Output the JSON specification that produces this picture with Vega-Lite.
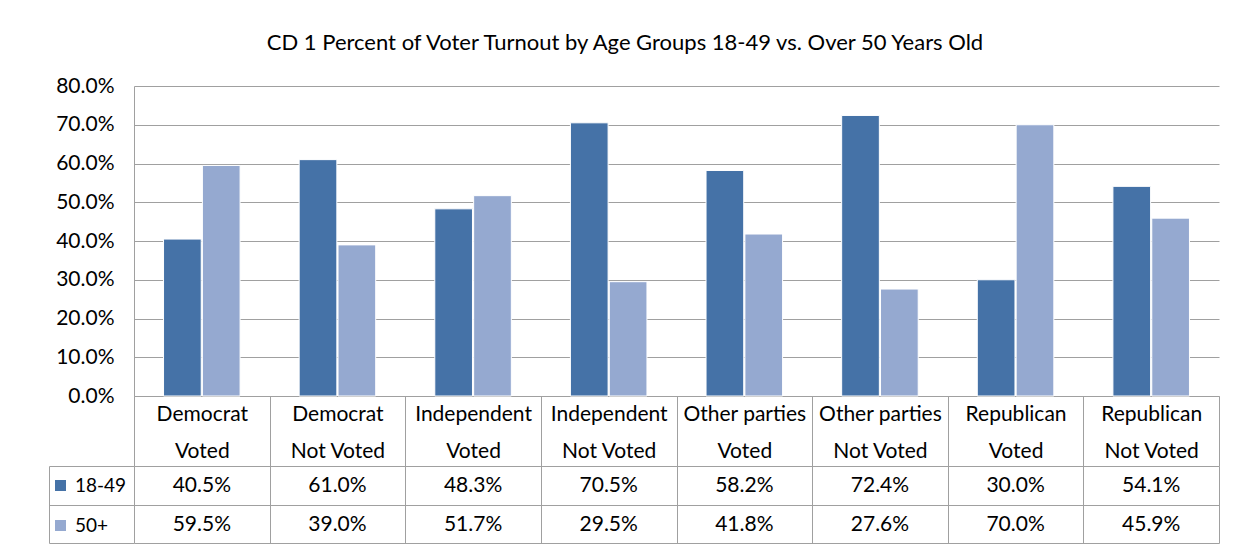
{
  "$schema": "https://vega.github.io/schema/vega-lite/v6.json",
  "autosize": {"type": "pad"},
  "padding": {"left": 48, "top": 32, "right": 20, "bottom": 5},
  "background": "white",
  "title": {"text": "CD 1 Percent of Voter Turnout by Age Groups 18-49 vs. Over 50 Years Old", "fontSize": 22, "font": "Lato", "fontWeight": "normal", "color": "#000000", "anchor": "middle", "offset": 20, "dx": -9},
  "config": {"font": "Lato", "view": {"stroke": null}},
  "datasets": {
    "turnout": [
      {"category": "Democrat Voted", "age": "18-49", "share": 0.405},
      {"category": "Democrat Voted", "age": "50+", "share": 0.595},
      {"category": "Democrat Not Voted", "age": "18-49", "share": 0.610},
      {"category": "Democrat Not Voted", "age": "50+", "share": 0.390},
      {"category": "Independent Voted", "age": "18-49", "share": 0.483},
      {"category": "Independent Voted", "age": "50+", "share": 0.517},
      {"category": "Independent Not Voted", "age": "18-49", "share": 0.705},
      {"category": "Independent Not Voted", "age": "50+", "share": 0.295},
      {"category": "Other parties Voted", "age": "18-49", "share": 0.582},
      {"category": "Other parties Voted", "age": "50+", "share": 0.418},
      {"category": "Other parties Not Voted", "age": "18-49", "share": 0.724},
      {"category": "Other parties Not Voted", "age": "50+", "share": 0.276},
      {"category": "Republican Voted", "age": "18-49", "share": 0.300},
      {"category": "Republican Voted", "age": "50+", "share": 0.700},
      {"category": "Republican Not Voted", "age": "18-49", "share": 0.541},
      {"category": "Republican Not Voted", "age": "50+", "share": 0.459}
    ]
  },
  "spacing": 70,
  "bounds": "flush",
  "resolve": {"scale": {"color": "independent"}, "legend": {"color": "independent"}},
  "vconcat": [
    {
      "width": 1085,
      "height": 310,
      "data": {"name": "turnout"},
      "mark": {"type": "bar", "stroke": "white", "strokeWidth": 1},
      "encoding": {
        "x": {
          "field": "category", "type": "nominal", "sort": null,
          "scale": {"paddingInner": 0, "paddingOuter": 0},
          "axis": {
            "title": null, "labelAngle": 0,
            "labelExpr": "indexof(datum.label, ' Voted') < 0 ? '' : indexof(datum.label, ' Not Voted') >= 0 ? [substring(datum.label, 0, indexof(datum.label, ' Not Voted')), 'Not Voted'] : [substring(datum.label, 0, indexof(datum.label, ' Voted')), 'Voted']",
            "labelFontSize": 21, "labelColor": "#000000", "labelLineHeight": 37,
            "labelPadding": -63, "labelBaseline": "top",
            "tickBand": "extent", "tickSize": 70, "tickColor": "#A0A0A0",
            "domainColor": "#A0A0A0", "grid": false
          }
        },
        "xOffset": {"field": "age", "type": "nominal", "scale": {"paddingInner": 0.03, "paddingOuter": 0.76}},
        "y": {
          "field": "share", "type": "quantitative",
          "scale": {"domain": [0, 0.8]},
          "axis": {
            "title": null, "format": ".1%",
            "values": [0, 0.1, 0.2, 0.3, 0.4, 0.5, 0.6, 0.7, 0.8],
            "labelFontSize": 21, "labelColor": "#000000", "labelPadding": 20,
            "ticks": false, "domainColor": "#A0A0A0", "gridColor": "#A0A0A0"
          }
        },
        "color": {
          "field": "age", "type": "nominal",
          "scale": {"domain": ["18-49", "50+"], "range": ["#4572A7", "#95A9D0"]},
          "legend": {
            "orient": "none", "legendX": -83, "legendY": 390, "title": null,
            "symbolType": "square", "symbolSize": 121, "labelFontSize": 19,
            "labelColor": "#000000", "rowPadding": 20, "labelOffset": 5, "symbolStrokeWidth": 0
          }
        }
      }
    },
    {
      "width": 1085,
      "height": 77,
      "data": {"name": "turnout"},
      "mark": {"type": "text", "fontSize": 21, "color": "#000000", "dy": 1},
      "encoding": {
        "x": {
          "field": "category", "type": "nominal", "sort": null,
          "scale": {"paddingInner": 0, "paddingOuter": 0},
          "axis": {"title": null, "labels": false, "ticks": false, "domain": false, "grid": true, "tickBand": "extent", "gridColor": "#A0A0A0", "orient": "bottom"}
        },
        "y": {
          "field": "age", "type": "nominal",
          "scale": {"domain": ["18-49", "50+"], "paddingInner": 0, "paddingOuter": 0},
          "axis": {"title": null, "labels": false, "offset": 85, "domain": true, "domainColor": "#A0A0A0", "ticks": true, "tickBand": "extent", "tickSize": -85, "tickColor": "#A0A0A0", "grid": true, "gridColor": "#A0A0A0"}
        },
        "text": {"field": "share", "type": "quantitative", "format": ".1%"}
      }
    }
  ]
}
